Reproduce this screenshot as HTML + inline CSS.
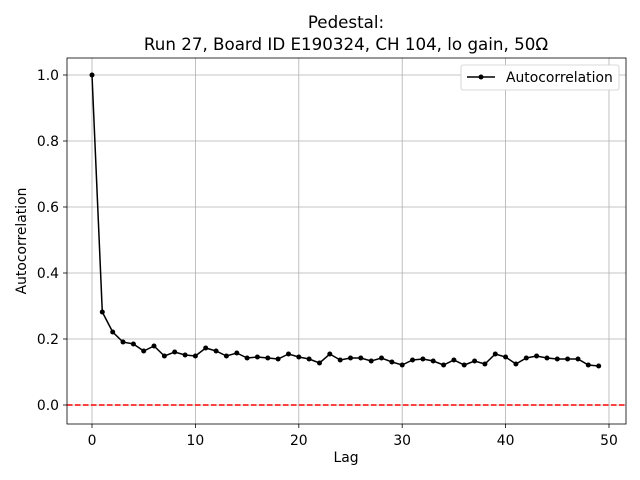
<!DOCTYPE html>
<html><head><style>body{margin:0;background:#fff}svg{display:block}</style></head><body>
<svg width="640" height="480" xmlns="http://www.w3.org/2000/svg" font-family="DejaVu Sans, Liberation Sans, sans-serif">
<rect width="640" height="480" fill="#fff"/>
<g stroke="#b0b0b0" stroke-width="0.8">
<line x1="92" y1="58" x2="92" y2="424"/><line x1="195.4" y1="58" x2="195.4" y2="424"/><line x1="298.8" y1="58" x2="298.8" y2="424"/><line x1="402.2" y1="58" x2="402.2" y2="424"/><line x1="505.6" y1="58" x2="505.6" y2="424"/><line x1="609" y1="58" x2="609" y2="424"/>
<line x1="67" y1="405" x2="626" y2="405"/><line x1="67" y1="339" x2="626" y2="339"/><line x1="67" y1="273" x2="626" y2="273"/><line x1="67" y1="207" x2="626" y2="207"/><line x1="67" y1="141" x2="626" y2="141"/><line x1="67" y1="75" x2="626" y2="75"/>
</g>
<line x1="67" y1="405" x2="626" y2="405" stroke="#f00" stroke-width="1.5" stroke-dasharray="5.5,2.5"/>
<polyline fill="none" stroke="#000" stroke-width="1.5" points="92,75 102.3,312 112.7,332 123,342 133.4,344 143.7,351 154,346 164.4,356 174.7,352 185.1,355 195.4,356 205.7,348 216.1,351 226.4,356 236.8,353 247.1,358 257.4,357 267.8,358 278.1,359 288.5,354 298.8,357 309.1,359 319.5,363 329.8,354 340.2,360 350.5,358 360.8,358 371.2,361 381.5,358 391.9,362 402.2,365 412.5,360 422.9,359 433.2,361 443.6,365 453.9,360 464.2,365 474.6,361 484.9,364 495.3,354 505.6,357 515.9,364 526.3,358 536.6,356 547,358 557.3,359 567.6,359 578,359 588.3,365 598.7,366"/>
<g fill="#000">
<circle cx="92" cy="75" r="2.5"/><circle cx="102.3" cy="312" r="2.5"/><circle cx="112.7" cy="332" r="2.5"/><circle cx="123" cy="342" r="2.5"/><circle cx="133.4" cy="344" r="2.5"/><circle cx="143.7" cy="351" r="2.5"/><circle cx="154" cy="346" r="2.5"/><circle cx="164.4" cy="356" r="2.5"/><circle cx="174.7" cy="352" r="2.5"/><circle cx="185.1" cy="355" r="2.5"/><circle cx="195.4" cy="356" r="2.5"/><circle cx="205.7" cy="348" r="2.5"/><circle cx="216.1" cy="351" r="2.5"/><circle cx="226.4" cy="356" r="2.5"/><circle cx="236.8" cy="353" r="2.5"/><circle cx="247.1" cy="358" r="2.5"/><circle cx="257.4" cy="357" r="2.5"/><circle cx="267.8" cy="358" r="2.5"/><circle cx="278.1" cy="359" r="2.5"/><circle cx="288.5" cy="354" r="2.5"/><circle cx="298.8" cy="357" r="2.5"/><circle cx="309.1" cy="359" r="2.5"/><circle cx="319.5" cy="363" r="2.5"/><circle cx="329.8" cy="354" r="2.5"/><circle cx="340.2" cy="360" r="2.5"/><circle cx="350.5" cy="358" r="2.5"/><circle cx="360.8" cy="358" r="2.5"/><circle cx="371.2" cy="361" r="2.5"/><circle cx="381.5" cy="358" r="2.5"/><circle cx="391.9" cy="362" r="2.5"/><circle cx="402.2" cy="365" r="2.5"/><circle cx="412.5" cy="360" r="2.5"/><circle cx="422.9" cy="359" r="2.5"/><circle cx="433.2" cy="361" r="2.5"/><circle cx="443.6" cy="365" r="2.5"/><circle cx="453.9" cy="360" r="2.5"/><circle cx="464.2" cy="365" r="2.5"/><circle cx="474.6" cy="361" r="2.5"/><circle cx="484.9" cy="364" r="2.5"/><circle cx="495.3" cy="354" r="2.5"/><circle cx="505.6" cy="357" r="2.5"/><circle cx="515.9" cy="364" r="2.5"/><circle cx="526.3" cy="358" r="2.5"/><circle cx="536.6" cy="356" r="2.5"/><circle cx="547" cy="358" r="2.5"/><circle cx="557.3" cy="359" r="2.5"/><circle cx="567.6" cy="359" r="2.5"/><circle cx="578" cy="359" r="2.5"/><circle cx="588.3" cy="365" r="2.5"/><circle cx="598.7" cy="366" r="2.5"/>
</g>
<rect x="67" y="58" width="559" height="366" fill="none" stroke="#000" stroke-width="0.8"/>
<g stroke="#000" stroke-width="0.8">
<line x1="92" y1="424" x2="92" y2="428"/><line x1="195.4" y1="424" x2="195.4" y2="428"/><line x1="298.8" y1="424" x2="298.8" y2="428"/><line x1="402.2" y1="424" x2="402.2" y2="428"/><line x1="505.6" y1="424" x2="505.6" y2="428"/><line x1="609" y1="424" x2="609" y2="428"/>
<line x1="63" y1="405" x2="67" y2="405"/><line x1="63" y1="339" x2="67" y2="339"/><line x1="63" y1="273" x2="67" y2="273"/><line x1="63" y1="207" x2="67" y2="207"/><line x1="63" y1="141" x2="67" y2="141"/><line x1="63" y1="75" x2="67" y2="75"/>
</g>
<g font-size="13.9" text-anchor="middle">
<text x="92" y="445">0</text><text x="195.4" y="445">10</text><text x="298.8" y="445">20</text><text x="402.2" y="445">30</text><text x="505.6" y="445">40</text><text x="609" y="445">50</text>
</g>
<g font-size="13.9" text-anchor="end">
<text x="59" y="410">0.0</text><text x="59" y="344">0.2</text><text x="59" y="278">0.4</text><text x="59" y="212">0.6</text><text x="59" y="146">0.8</text><text x="59" y="80">1.0</text>
</g>
<text x="346" y="462" font-size="13.9" text-anchor="middle">Lag</text>
<text x="26" y="241" font-size="13.9" text-anchor="middle" transform="rotate(-90 26 241)">Autocorrelation</text>
<text x="346" y="28" font-size="16.7" text-anchor="middle">Pedestal:</text>
<text x="346" y="50" font-size="16.7" text-anchor="middle">Run 27, Board ID E190324, CH 104, lo gain, 50Ω</text>
<rect x="461" y="65" width="158" height="25" rx="2" fill="#fff" stroke="#ccc" stroke-width="0.8"/>
<line x1="467" y1="77" x2="495" y2="77" stroke="#000" stroke-width="1.5"/><circle cx="481" cy="77" r="2.5"/>
<text x="506" y="82" font-size="13.9">Autocorrelation</text>
</svg>
</body></html>
